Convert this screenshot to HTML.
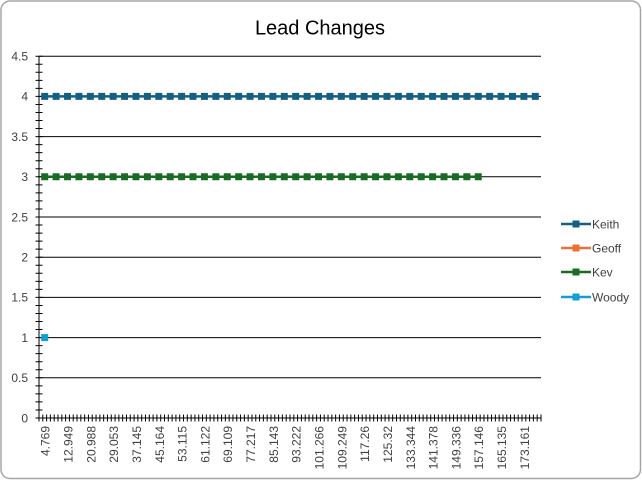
<!DOCTYPE html>
<html><head><meta charset="utf-8"><style>
html,body{margin:0;padding:0;background:#fff;}
svg{display:block;}
text{font-family:"Liberation Sans",Arial,sans-serif;}
</style></head><body>
<svg width="642" height="480" viewBox="0 0 642 480" xmlns="http://www.w3.org/2000/svg">
<rect x="1" y="1" width="639.5" height="477.5" rx="9" ry="9" fill="#fff" stroke="#a6a6a6" stroke-width="1.5"/>
<text x="320" y="34.5" font-size="20" text-anchor="middle" fill="#000">Lead Changes</text>
<!-- gridlines -->
<g stroke="#000" stroke-width="1">
<line x1="39" y1="56.2" x2="541" y2="56.2"/>
<line x1="39" y1="96.4" x2="541" y2="96.4"/>
<line x1="39" y1="136.6" x2="541" y2="136.6"/>
<line x1="39" y1="176.8" x2="541" y2="176.8"/>
<line x1="39" y1="217" x2="541" y2="217"/>
<line x1="39" y1="257.2" x2="541" y2="257.2"/>
<line x1="39" y1="297.4" x2="541" y2="297.4"/>
<line x1="39" y1="337.6" x2="541" y2="337.6"/>
<line x1="39" y1="377.8" x2="541" y2="377.8"/>
<line x1="39" y1="418" x2="541" y2="418"/>
<line x1="39" y1="56" x2="39" y2="418"/>
</g>
<!-- y ticks -->
<line x1="39" y1="55.7" x2="39" y2="418.8" stroke="#000" stroke-width="7" stroke-dasharray="1 7.04"/>
<!-- x ticks -->
<line x1="38.5" y1="418" x2="541.6" y2="418" stroke="#000" stroke-width="7" stroke-dasharray="1 2.80303"/>
<!-- y labels -->
<g font-size="12" fill="#404040" text-anchor="end">
<text x="28" y="60.5">4.5</text>
<text x="28" y="100.7">4</text>
<text x="28" y="140.9">3.5</text>
<text x="28" y="181.1">3</text>
<text x="28" y="221.3">2.5</text>
<text x="28" y="261.5">2</text>
<text x="28" y="301.7">1.5</text>
<text x="28" y="341.9">1</text>
<text x="28" y="382.1">0.5</text>
<text x="28" y="422.3">0</text>
</g>
<!-- x labels -->
<g font-size="12" fill="#404040" text-anchor="end">
<text transform="translate(49.7,426) rotate(-90)">4.769</text>
<text transform="translate(72.52,426) rotate(-90)">12.949</text>
<text transform="translate(95.34,426) rotate(-90)">20.988</text>
<text transform="translate(118.15,426) rotate(-90)">29.053</text>
<text transform="translate(140.97,426) rotate(-90)">37.145</text>
<text transform="translate(163.79,426) rotate(-90)">45.164</text>
<text transform="translate(186.61,426) rotate(-90)">53.115</text>
<text transform="translate(209.43,426) rotate(-90)">61.122</text>
<text transform="translate(232.24,426) rotate(-90)">69.109</text>
<text transform="translate(255.06,426) rotate(-90)">77.217</text>
<text transform="translate(277.88,426) rotate(-90)">85.143</text>
<text transform="translate(300.70,426) rotate(-90)">93.222</text>
<text transform="translate(323.52,426) rotate(-90)">101.266</text>
<text transform="translate(346.33,426) rotate(-90)">109.249</text>
<text transform="translate(369.15,426) rotate(-90)">117.26</text>
<text transform="translate(391.97,426) rotate(-90)">125.32</text>
<text transform="translate(414.79,426) rotate(-90)">133.344</text>
<text transform="translate(437.61,426) rotate(-90)">141.378</text>
<text transform="translate(460.42,426) rotate(-90)">149.336</text>
<text transform="translate(483.24,426) rotate(-90)">157.146</text>
<text transform="translate(506.06,426) rotate(-90)">165.135</text>
<text transform="translate(528.88,426) rotate(-90)">173.161</text>
</g>
<!-- Keith -->
<line x1="44.7" y1="96.4" x2="535.3" y2="96.4" stroke="#156082" stroke-width="2.5"/>
<line x1="41.2" y1="96.4" x2="538.8" y2="96.4" stroke="#156082" stroke-width="7" stroke-dasharray="7 4.409"/>
<!-- Kev -->
<line x1="44.7" y1="176.8" x2="478.25" y2="176.8" stroke="#196b24" stroke-width="2.5"/>
<line x1="41.2" y1="176.8" x2="481.75" y2="176.8" stroke="#196b24" stroke-width="7" stroke-dasharray="7 4.409"/>
<!-- Woody -->
<rect x="41.2" y="334.1" width="7" height="7" fill="#0f9ed5"/>
<!-- legend -->
<g stroke-width="2.5">
<line x1="561" y1="224" x2="591" y2="224" stroke="#156082"/>
<line x1="561" y1="248" x2="591" y2="248" stroke="#e97132"/>
<line x1="561" y1="272" x2="591" y2="272" stroke="#196b24"/>
<line x1="561" y1="297" x2="591" y2="297" stroke="#0f9ed5"/>
</g>
<rect x="572.5" y="220.5" width="7" height="7" fill="#156082"/>
<rect x="572.5" y="244.5" width="7" height="7" fill="#e97132"/>
<rect x="572.5" y="268.5" width="7" height="7" fill="#196b24"/>
<rect x="572.5" y="293.5" width="7" height="7" fill="#0f9ed5"/>
<g font-size="12" fill="#404040">
<text x="592" y="228.3">Keith</text>
<text x="592" y="252.3">Geoff</text>
<text x="592" y="276.3">Kev</text>
<text x="592" y="301.3">Woody</text>
</g>
</svg>
</body></html>
